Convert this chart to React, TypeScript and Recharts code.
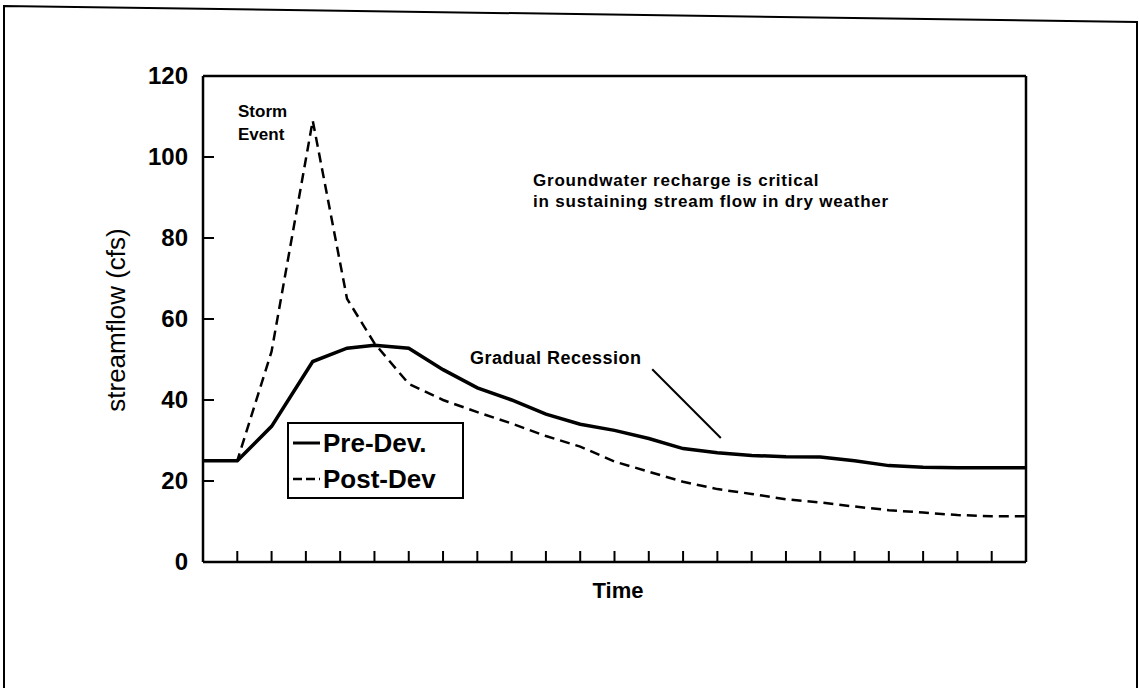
import { LineChart, Line, XAxis, YAxis, ReferenceLine, Legend } from 'recharts';

// time steps (x) and streamflow (cfs)
const timeSteps = [0, 1, 2, 3.2, 4.2, 5, 6, 7, 8, 9, 10, 11, 12, 13, 14, 15, 16, 17, 18, 19, 20, 21, 22, 23, 24];
const preDev = [25, 25, 33.5, 49.5, 52.8, 53.5, 52.8, 47.5, 43, 40, 36.5, 34, 32.5, 30.5, 28, 27, 26.3, 26, 25.9, 25, 23.8, 23.4, 23.3, 23.3, 23.3];
const postDev = [25, 25, 52, 109, 65, 54, 44, 40, 37, 34.2, 31.1, 28.5, 24.8, 22.3, 19.8, 18, 16.8, 15.5, 14.7, 13.7, 12.8, 12.2, 11.6, 11.3, 11.3];

const xTicks = [0, 1, 2, 3, 4, 5, 6, 7, 8, 9, 10, 11, 12, 13, 14, 15, 16, 17, 18, 19, 20, 21, 22, 23, 24];
const yTicks = [0, 20, 40, 60, 80, 100, 120];
const seriesNames = ['Pre-Dev.', 'Post-Dev'];

const rows = timeSteps.map((t, i) => ({ t, pre: preDev[i], post: postDev[i] }));

const FONT = '"Liberation Sans", Arial, sans-serif';

function XTick(props: any) {
  const { x, y, payload } = props;
  if (payload.value === 0 || payload.value === 24) return <g />;
  return <line x1={x} x2={x} y1={y} y2={y - 11} stroke="#000" strokeWidth={2} />;
}

function YTick(props: any) {
  const { x, y, payload } = props;
  return (
    <g>
      <text x={x} y={y} dy={8} textAnchor="end" fontFamily={FONT} fontWeight="bold" fontSize={24} fill="#000">
        {payload.value}
      </text>
      {payload.value !== 0 && payload.value !== 120 && (
        <line x1={x + 15} x2={x + 26} y1={y} y2={y} stroke="#000" strokeWidth={2} />
      )}
    </g>
  );
}

function LegendBox() {
  return (
    <div
      style={{
        width: 177,
        height: 77,
        boxSizing: 'border-box',
        border: '2.5px solid #000',
        background: '#fff',
        padding: '1px 0 0 4px',
        fontFamily: FONT,
        fontWeight: 'bold',
        fontSize: 26,
        color: '#000',
      }}
    >
      {seriesNames.map((name, i) => (
        <div key={name} style={{ height: 36, display: 'flex', alignItems: 'center', lineHeight: 1 }}>
          <svg width={30} height={10} style={{ flex: 'none' }}>
            <line
              x1={0}
              x2={27}
              y1={5}
              y2={5}
              stroke="#000"
              strokeWidth={i === 0 ? 3 : 2.5}
              strokeDasharray={i === 0 ? undefined : '9 4'}
            />
          </svg>
          <span>{name}</span>
        </div>
      ))}
    </div>
  );
}

export default function App() {
  return (
    <div style={{ position: 'absolute', left: 0, top: 0, width: 1140, height: 688, background: '#fff' }}>
      <LineChart width={1140} height={688} data={rows} margin={{ top: 76, right: 114, bottom: 96, left: 143 }}>
        <XAxis
          dataKey="t"
          type="number"
          domain={[0, 24]}
          ticks={xTicks}
          interval={0}
          height={30}
          tickSize={0}
          tickMargin={0}
          tickLine={false}
          axisLine={{ stroke: '#000', strokeWidth: 2.5 }}
          tick={(p: any) => <XTick {...p} />}
        />
        <YAxis
          type="number"
          domain={[0, 120]}
          ticks={yTicks}
          interval={0}
          width={60}
          tickSize={0}
          tickMargin={15}
          tickLine={false}
          axisLine={{ stroke: '#000', strokeWidth: 2.5 }}
          tick={(p: any) => <YTick {...p} />}
        />
        <ReferenceLine y={120} stroke="#000" strokeWidth={2.5} />
        <ReferenceLine x={24} stroke="#000" strokeWidth={2.5} />
        <ReferenceLine
          segment={[
            { x: 13.1, y: 47.6 },
            { x: 15.1, y: 30.6 },
          ]}
          stroke="#000"
          strokeWidth={2}
        />
        <Line
          type="linear"
          dataKey="post"
          name={seriesNames[1]}
          stroke="#000"
          strokeWidth={2.5}
          strokeDasharray="10 6"
          dot={false}
          isAnimationActive={false}
        />
        <Line
          type="linear"
          dataKey="pre"
          name={seriesNames[0]}
          stroke="#000"
          strokeWidth={3.5}
          dot={false}
          isAnimationActive={false}
        />
        <Legend
          layout="vertical"
          align="center"
          verticalAlign="middle"
          wrapperStyle={{ left: 287, top: 422, width: 177, height: 77 }}
          content={() => <LegendBox />}
        />
      </LineChart>
      <svg
        width={1140}
        height={688}
        style={{ position: 'absolute', left: 0, top: 0, pointerEvents: 'none' }}
        fontFamily={FONT}
        fill="#000"
      >
        {/* scanned page frame */}
        <polyline points="4,688 4,6 1137,22 1137,688" fill="none" stroke="#000" strokeWidth={2} />
        <text x={238} y={117} fontSize={17} fontWeight="bold">Storm</text>
        <text x={238} y={140} fontSize={17} fontWeight="bold">Event</text>
        <text x={533} y={186} fontSize={17} fontWeight="bold" letterSpacing={0.8}>
          Groundwater recharge is critical
        </text>
        <text x={533} y={207} fontSize={17} fontWeight="bold" letterSpacing={0.8}>
          in sustaining stream flow in dry weather
        </text>
        <text x={470} y={364} fontSize={18} fontWeight="bold" letterSpacing={0.5}>Gradual Recession</text>
        <text x={618} y={598} fontSize={22} fontWeight="bold" textAnchor="middle">Time</text>
        <text transform="translate(125,320) rotate(-90)" fontSize={26} textAnchor="middle">
          streamflow (cfs)
        </text>
      </svg>
    </div>
  );
}
